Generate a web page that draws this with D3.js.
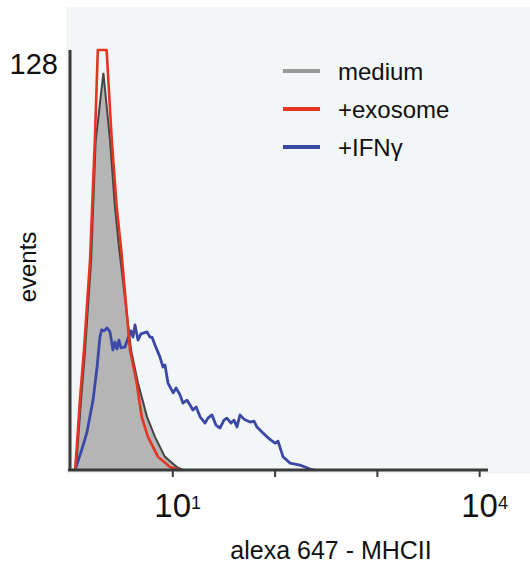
<!DOCTYPE html>
<html>
<head>
<meta charset="utf-8">
<script src="https://cdn.jsdelivr.net/npm/d3@7"></script>
<style>
  body { margin: 0; background: #fff; }
  svg { display: block; font-family: "Liberation Sans", Arial, sans-serif; }
</style>
</head>
<body>
<svg id="chart"></svg>
<script>
// histogram data: fluorescence (log axis) vs events
const mediumFluor  = [1.14, 1.18, 1.28, 1.40, 1.61, 1.78, 2.12, 2.46, 2.75, 3.01, 3.95, 4.62, 5.66, 6.77, 8.48, 11.1, 12.7];
const mediumCounts = [0, 6, 21, 36, 64, 100, 121, 100.6, 80.2, 68, 36.6, 26.5, 16.2, 10.1, 4.0, 0.9, 0];

const exosomeFluor  = [1.12, 1.16, 1.25, 1.37, 1.57, 1.75, 1.87, 2.28, 2.56, 2.86, 3.16, 3.86, 4.49, 5.02, 5.78, 7.25, 9.50, 11.9];
const exosomeCounts = [0, 6.1, 21.3, 36.6, 64, 100.6, 128, 128, 100.6, 80.2, 67.5, 36.6, 26.5, 16.2, 10.1, 4.0, 0.9, 0];

const ifnFluor  = [1.12, 1.30, 1.46, 1.68, 1.84, 1.96, 2.04, 2.15, 2.30, 2.46, 2.63, 2.75, 2.88, 3.01, 3.15, 3.45, 3.69, 3.95, 4.13, 4.32,
                   4.62, 4.94, 5.29, 5.66, 6.05, 6.33, 6.77, 7.09, 7.58, 8.11, 8.48, 9.08, 10.2, 10.9, 11.9, 12.7, 13.9, 14.9, 15.9, 17.1,
                   18.7, 20.9, 22.3, 24.4, 26.7, 29.3, 32.0, 34.2, 37.5, 40.1, 42.9, 45.9, 50.2, 57.5, 62.9, 67.3, 75.3, 84.3, 92.2, 101,
                   108, 121, 132, 141, 158, 177, 198, 222, 248];
const ifnCounts = [0, 6.1, 11.3, 21.3, 31.4, 40.5, 42.7, 42.4, 43.3, 42.1, 36.6, 39, 36.9, 39.6, 37.2, 37.5, 40.2, 42.4, 40.5, 44.2,
                   39.6, 41.5, 41.8, 42.1, 40.5, 40.5, 38.1, 36.6, 34.4, 31.4, 32, 26.5, 23.5, 25.0, 22.9, 20.4, 21.3, 19.8, 18.3, 19.2,
                   16.2, 14.3, 15.8, 16.8, 13.7, 12.8, 15.2, 15.8, 14.3, 15.2, 13.1, 16.8, 15.5, 14.6, 14.9, 13.1, 11.6, 10.1, 9.1, 8.2,
                   8.8, 4.0, 3.0, 2.1, 1.8, 1.5, 0.9, 0.3, 0];

const legendLabels = ["medium", "+exosome", "+IFNγ"];
const xTickValues = [10, 100, 1000, 10000];
const xTickLabels = [["10", "1"], null, null, ["10", "4"]];
const yMax = 128;

const width = 530, height = 565;
const margin = {top: 50, right: 42, bottom: 95, left: 70};

const svg = d3.select("#chart")
  .attr("width", width)
  .attr("height", height);

// light panel behind the plot
svg.append("rect")
  .attr("x", 66).attr("y", 7)
  .attr("width", width - 66).attr("height", 467)
  .attr("fill", "#f3f6f7");

const x = d3.scaleLog()
  .domain([1, 12200])
  .range([margin.left, width - margin.right]);

const y = d3.scaleLinear()
  .domain([0, yMax])
  .range([height - margin.bottom, margin.top]);

const toPts = (xs, ys) => xs.map((v, i) => [v, Math.min(ys[i], yMax)]);

const area = d3.area()
  .x(d => x(d[0]))
  .y0(y(0))
  .y1(d => y(d[1]));

const line = d3.line()
  .x(d => x(d[0]))
  .y(d => y(d[1]));

const medium = toPts(mediumFluor, mediumCounts);
const exosome = toPts(exosomeFluor, exosomeCounts);
const ifn = toPts(ifnFluor, ifnCounts);

const colors = {medium: "#999999", exosome: "#e5341f", ifn: "#3b49a6"};

// medium: grey filled histogram with dark outline
svg.append("path")
  .datum(medium)
  .attr("d", area)
  .attr("fill", "#b5b5b5");

svg.append("path")
  .datum(medium)
  .attr("d", line)
  .attr("fill", "none")
  .attr("stroke", "#454545")
  .attr("stroke-width", 2);

svg.append("path")
  .datum(ifn)
  .attr("d", line)
  .attr("fill", "none")
  .attr("stroke", colors.ifn)
  .attr("stroke-width", 2.8)
  .attr("stroke-linejoin", "round");

svg.append("path")
  .datum(exosome)
  .attr("d", line)
  .attr("fill", "none")
  .attr("stroke", colors.exosome)
  .attr("stroke-width", 2.6)
  .attr("stroke-linejoin", "round");

// x axis
const xAxis = d3.axisBottom(x)
  .tickValues(xTickValues)
  .tickSize(7)
  .tickFormat("");

const xAxisG = svg.append("g")
  .attr("transform", `translate(0,${y(0)})`)
  .call(xAxis);
xAxisG.select(".domain")
  .attr("d", `M${margin.left - 2},0H${x(12200)}`)
  .attr("stroke", "#3a3a3a")
  .attr("stroke-width", 3);
xAxisG.selectAll(".tick line")
  .attr("stroke", "#3a3a3a")
  .attr("stroke-width", 2);

xTickValues.forEach((v, i) => {
  if (!xTickLabels[i]) return;
  const t = svg.append("text")
    .attr("x", x(v) - 18)
    .attr("y", 517)
    .attr("font-size", 33)
    .attr("fill", "#111");
  t.append("tspan").text(xTickLabels[i][0]);
  t.append("tspan")
    .attr("font-size", 18)
    .attr("dy", -8)
    .text(xTickLabels[i][1]);
});

// y axis: plain line with only the top value
svg.append("line")
  .attr("x1", margin.left).attr("x2", margin.left)
  .attr("y1", y(yMax)).attr("y2", y(0))
  .attr("stroke", "#3a3a3a")
  .attr("stroke-width", 3);

svg.append("text")
  .attr("x", 58)
  .attr("y", 74)
  .attr("text-anchor", "end")
  .attr("font-size", 29)
  .attr("fill", "#111")
  .text(yMax);

svg.append("text")
  .attr("transform", "translate(36,267) rotate(-90)")
  .attr("text-anchor", "middle")
  .attr("font-size", 24)
  .attr("fill", "#111")
  .text("events");

svg.append("text")
  .attr("x", 331)
  .attr("y", 559)
  .attr("text-anchor", "middle")
  .attr("font-size", 25)
  .attr("fill", "#111")
  .text("alexa 647 - MHCII");

// legend
const legendColors = [colors.medium, colors.exosome, colors.ifn];
const legend = svg.append("g");
legendLabels.forEach((lab, i) => {
  const ly = 71 + i * 38;
  legend.append("line")
    .attr("x1", 283).attr("x2", 320)
    .attr("y1", ly).attr("y2", ly)
    .attr("stroke", legendColors[i])
    .attr("stroke-width", 4);
  legend.append("text")
    .attr("x", 338)
    .attr("y", ly + 9)
    .attr("font-size", 24)
    .attr("fill", "#111")
    .text(lab);
});
</script>
</body>
</html>
